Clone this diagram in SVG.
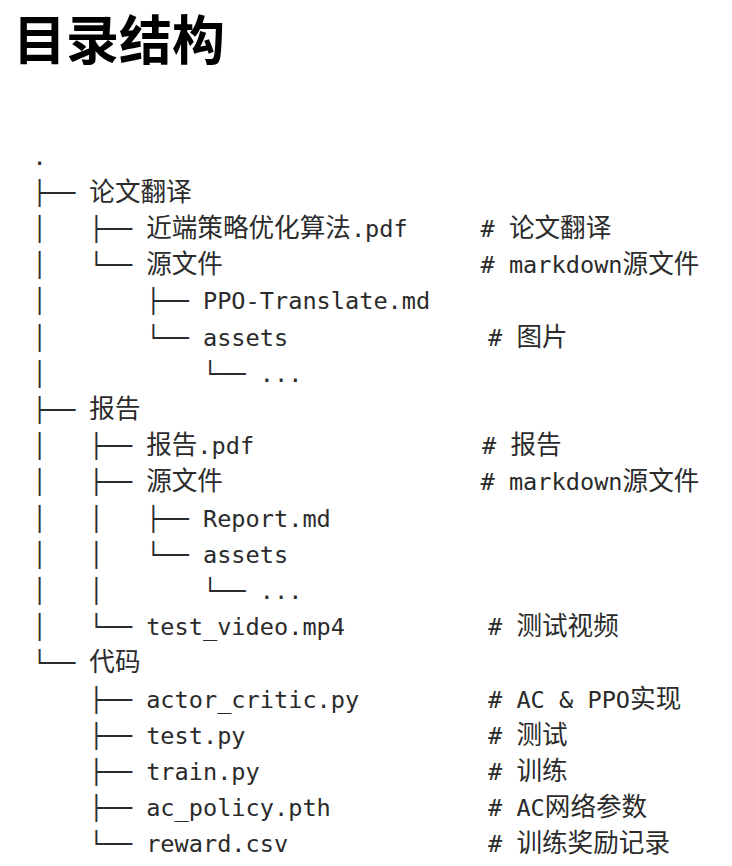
<svg xmlns="http://www.w3.org/2000/svg" width="732" height="866" viewBox="0 0 732 866">
<style>
  .title { font-family: "Noto Sans CJK SC", "Noto Sans", sans-serif; font-weight: 700; font-size: 53px; fill: #000; }
  .t { font-family: "DejaVu Sans Mono", "Noto Sans CJK SC", monospace; font-size: 23.6px; fill: #2b2b2b; white-space: pre; }
  .c { font-family: "Noto Sans CJK SC", "Noto Sans CJK JP", sans-serif; font-size: 25.6px; }
</style>
<rect width="732" height="866" fill="#fff"/>
<text class="title" x="13" y="60">目录结构</text>
<g id="tree" xml:space="preserve">
  <text class="t" x="32.5" y="164.5">.</text>
  <text class="t" x="32.5" y="200.7">├── <tspan class="c">论文翻译</tspan></text>
  <text class="t" x="32.5" y="236.9">│   ├── <tspan class="c">近端策略优化算法</tspan>.pdf</text>
  <text class="t" x="32.5" y="273.1">│   └── <tspan class="c">源文件</tspan></text>
  <text class="t" x="32.5" y="309.3">│       ├── PPO-Translate.md</text>
  <text class="t" x="32.5" y="345.5">│       └── assets</text>
  <text class="t" x="32.5" y="381.7">│           └── ...</text>
  <text class="t" x="32.5" y="417.9">├── <tspan class="c">报告</tspan></text>
  <text class="t" x="32.5" y="454.1">│   ├── <tspan class="c">报告</tspan>.pdf</text>
  <text class="t" x="32.5" y="490.3">│   ├── <tspan class="c">源文件</tspan></text>
  <text class="t" x="32.5" y="526.5">│   │   ├── Report.md</text>
  <text class="t" x="32.5" y="562.7">│   │   └── assets</text>
  <text class="t" x="32.5" y="598.9">│   │       └── ...</text>
  <text class="t" x="32.5" y="635.1">│   └── test_video.mp4</text>
  <text class="t" x="32.5" y="671.3">└── <tspan class="c">代码</tspan></text>
  <text class="t" x="32.5" y="707.5">    ├── actor_critic.py</text>
  <text class="t" x="32.5" y="743.7">    ├── test.py</text>
  <text class="t" x="32.5" y="779.9">    ├── train.py</text>
  <text class="t" x="32.5" y="816.1">    ├── ac_policy.pth</text>
  <text class="t" x="32.5" y="852.3">    └── reward.csv</text>
</g>
<g id="comments" xml:space="preserve">
  <text class="t" x="480.5" y="236.9"># <tspan class="c">论文翻译</tspan></text>
  <text class="t" x="480.5" y="273.1"># markdown<tspan class="c">源文件</tspan></text>
  <text class="t" x="488" y="345.5"># <tspan class="c">图片</tspan></text>
  <text class="t" x="482" y="454.1"># <tspan class="c">报告</tspan></text>
  <text class="t" x="480.5" y="490.3"># markdown<tspan class="c">源文件</tspan></text>
  <text class="t" x="488" y="635.1"># <tspan class="c">测试视频</tspan></text>
  <text class="t" x="488" y="707.5"># AC &amp; PPO<tspan class="c">实现</tspan></text>
  <text class="t" x="488" y="743.7"># <tspan class="c">测试</tspan></text>
  <text class="t" x="488" y="779.9"># <tspan class="c">训练</tspan></text>
  <text class="t" x="488" y="816.1"># AC<tspan class="c">网络参数</tspan></text>
  <text class="t" x="488" y="852.3"># <tspan class="c">训练奖励记录</tspan></text>
</g>
</svg>
